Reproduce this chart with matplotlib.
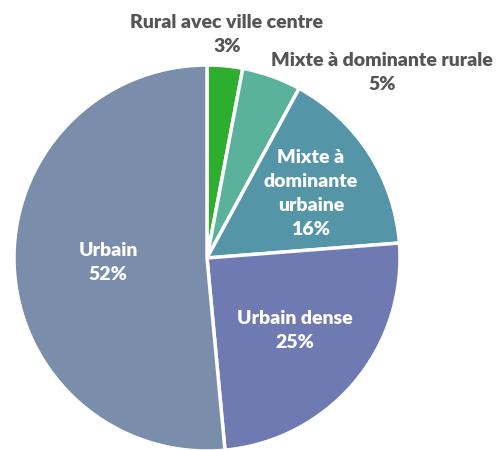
import matplotlib
matplotlib.use("Agg")
import matplotlib.pyplot as plt

categories = ["Rural avec ville centre", "Mixte à dominante rurale",
              "Mixte à dominante urbaine", "Urbain dense", "Urbain"]
values = [3, 5, 16, 25, 52]
pct_labels = ["3%", "5%", "16%", "25%", "52%"]
display_names = ["Rural avec ville centre", "Mixte à dominante rurale",
                 "Mixte à\ndominante\nurbaine", "Urbain dense", "Urbain"]
colors = ["#2eae2e", "#5ab29c", "#5595a8", "#6f7ab2", "#7a8daa"]

W, H = 498, 450
CX, CY, R = 207, 258, 193

fig = plt.figure(figsize=(W / 100, H / 100), dpi=100)
ax = fig.add_axes([0, 0, 1, 1])
ax.pie(values, colors=colors, startangle=90, counterclock=False, radius=1,
       wedgeprops=dict(edgecolor="white", linewidth=2.5))
ax.set_xlim((0 - CX) / R, (W - CX) / R)
ax.set_ylim((CY - H) / R, (CY - 0) / R)
ax.set_aspect("auto")
ax.axis("off")

def px(x, y):
    return (x - CX) / R, (CY - y) / R

font = dict(family=["Lato", "DejaVu Sans"], fontweight="heavy", fontsize=14,
            ha="center", va="center", linespacing=1.5)

# positions (pixels) of label centres
label_pos = [(227, 35), (382, 72), (311, 193), (295, 331), (108, 262)]
text_colors = ["#555555", "#555555", "white", "white", "white"]
for name, pct, (x, y), c in zip(display_names, pct_labels, label_pos, text_colors):
    ax.text(*px(x, y), f"{name}\n{pct}", color=c, **font)

fig.savefig("out.png", dpi=100)
